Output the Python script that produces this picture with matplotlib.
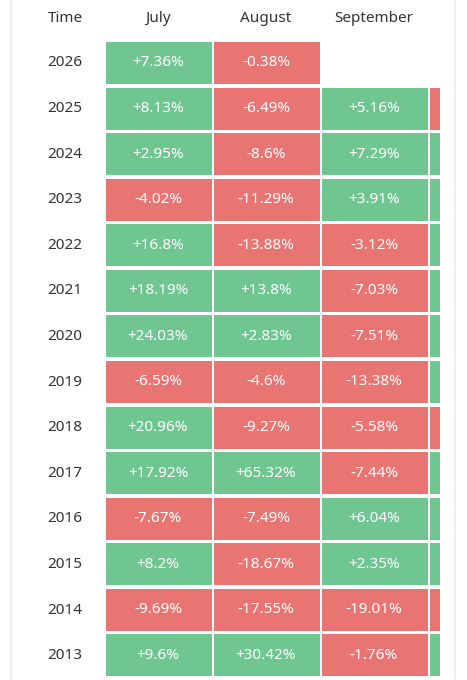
import matplotlib.pyplot as plt
from matplotlib.patches import Rectangle

plt.rcParams['font.family'] = ['Noto Sans', 'DejaVu Sans']

years = ['2026', '2025', '2024', '2023', '2022', '2021', '2020', '2019',
         '2018', '2017', '2016', '2015', '2014', '2013']
months = ['July', 'August', 'September']
july = [7.36, 8.13, 2.95, -4.02, 16.8, 18.19, 24.03, -6.59, 20.96, 17.92, -7.67, 8.2, -9.69, 9.6]
august = [-0.38, -6.49, -8.6, -11.29, -13.88, 13.8, 2.83, -4.6, -9.27, 65.32, -7.49, -18.67, -17.55, 30.42]
september = [None, 5.16, 7.29, 3.91, -3.12, -7.03, -7.51, -13.38, -5.58, -7.44, 6.04, 2.35, -19.01, -1.76]
# October is cut off at the right edge, only its sign is visible
october_sign = [None, -1, 1, 1, 1, 1, 1, 1, -1, 1, 1, 1, -1, 1]

GREEN = '#6fc691'
RED = '#e97573'

W, H = 467, 680
fig = plt.figure(figsize=(W / 100, H / 100), dpi=100)
fig.patch.set_facecolor('white')

# table body: columns are 108 px apart, rows 45.6 px apart
x0, x1, top = 104, 440, 42
ax = fig.add_axes([x0 / W, 0, (x1 - x0) / W, (H - top) / H])
ax.set_xlim(0, (x1 - x0) / 108)
ax.set_ylim(len(years) * 45.6 / (H - top) * (H - top) / 45.6, 0)
ax.axis('off')

gap = 2 / 108
rowgap = 3.6 / 45.6
for c, col in enumerate([july, august, september]):
    for r, v in enumerate(col):
        if v is None:
            continue
        ax.add_patch(Rectangle((c + gap, r), 1 - gap, 1 - rowgap,
                               color=GREEN if v >= 0 else RED, lw=0))
        ax.text(c + 0.5, r + 0.46, f'{v:+g}%', ha='center', va='center',
                color='white', fontsize=11)
for r, s in enumerate(october_sign):
    if s is None:
        continue
    ax.add_patch(Rectangle((3 + gap, r), 1 - gap, 1 - rowgap,
                           color=GREEN if s > 0 else RED, lw=0))

# header and year labels
fig.text(65 / W, 1 - 19 / H, 'Time', ha='center', va='center', fontsize=11, color='#333333')
for i, m in enumerate(months):
    fig.text((158 + 108 * i) / W, 1 - 19 / H, m, ha='center', va='center',
             fontsize=11, color='#333333')
for r, y in enumerate(years):
    fig.text(65 / W, 1 - (top + 45.6 * r + 21) / H, y, ha='center', va='center',
             fontsize=11, color='#333333')

# faint panel borders
fig.add_artist(plt.Line2D([11 / W, 11 / W], [0, 1], color='#eeeeee', lw=1.5))
fig.add_artist(plt.Line2D([455 / W, 455 / W], [0, 1], color='#eeeeee', lw=1.5))

fig.savefig('out.png', dpi=100)
